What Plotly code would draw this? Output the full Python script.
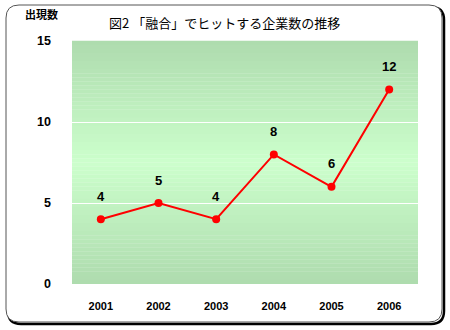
import plotly.graph_objects as go

years = ["2001", "2002", "2003", "2004", "2005", "2006"]
counts = [4, 5, 4, 8, 6, 12]
y_ticks = [0, 5, 10, 15]
title_text = "図2 「融合」でヒットする企業数の推移"
y_unit = "出現数"

W, H = 450, 330
L, R, T, B = 72, 418, 41, 284  # plot area pixels

def px(x):
    return (x - L) / (R - L)

def py(y):
    return (B - y) / (B - T)

def rounded_rect(x0, y0, x1, y1, r):
    return (f"M {px(x0+r)},{py(y0)} L {px(x1-r)},{py(y0)} Q {px(x1)},{py(y0)} {px(x1)},{py(y0+r)} "
            f"L {px(x1)},{py(y1-r)} Q {px(x1)},{py(y1)} {px(x1-r)},{py(y1)} "
            f"L {px(x0+r)},{py(y1)} Q {px(x0)},{py(y1)} {px(x0)},{py(y1-r)} "
            f"L {px(x0)},{py(y0+r)} Q {px(x0)},{py(y0)} {px(x0+r)},{py(y0)} Z")

fig = go.Figure()
fig.add_trace(go.Scatter(
    x=years, y=counts, mode="lines+markers",
    line=dict(color="#ff0000", width=2),
    marker=dict(color="#ff0000", size=8),
    hoverinfo="skip", showlegend=False,
))

shapes = []
# frame shadow and frame
shapes.append(dict(type="path", xref="paper", yref="paper", layer="below",
                   path=rounded_rect(8, 7, 444, 324, 13),
                   line=dict(color="#000000", width=2.5), fillcolor="rgba(0,0,0,0)"))
shapes.append(dict(type="path", xref="paper", yref="paper", layer="below",
                   path=rounded_rect(6, 5, 442, 322, 13),
                   line=dict(color="#555555", width=1), fillcolor="#ffffff"))

# vertical gradient background
top = (174, 219, 174)
mid = (204, 255, 204)
n = 60
for i in range(n):
    f0 = i / n
    f1 = (i + 1) / n
    fc = (f0 + f1) / 2  # fraction from top
    t = 1 - abs(fc - 0.5) / 0.5
    c = tuple(round(top[k] + (mid[k] - top[k]) * t) for k in range(3))
    shapes.append(dict(type="rect", xref="x domain", yref="y domain", layer="below",
                       x0=0, x1=1, y0=1 - f1, y1=1 - f0 + 0.001,
                       line=dict(width=0), fillcolor=f"rgb{c}"))

annotations = [
    dict(x=i, y=v, text=f"<b>{v}</b>", showarrow=False, yshift=23,
         font=dict(family="Liberation Sans, Arial", size=13, color="#000000"))
    for i, v in enumerate(counts)
]
annotations.append(dict(xref="paper", yref="paper", x=px(41), y=py(14), text=f"<b>{y_unit}</b>",
                        showarrow=False, xanchor="center", yanchor="middle",
                        font=dict(family="Noto Sans CJK JP", size=11, color="#000000")))
annotations.append(dict(xref="paper", yref="paper", x=px(224), y=py(22), text=title_text,
                        showarrow=False, xanchor="center", yanchor="middle",
                        font=dict(family="Noto Sans CJK JP", size=13, color="#000000")))

fig.update_layout(
    width=W, height=H,
    margin=dict(l=L, r=W - R, t=T, b=H - B, pad=0),
    paper_bgcolor="#ffffff", plot_bgcolor="rgba(0,0,0,0)",
    shapes=shapes, annotations=annotations,
    xaxis=dict(type="category", range=[-0.5, 5.5], showgrid=False, zeroline=False,
               showline=False, ticks="", ticklabelstandoff=14,
               tickfont=dict(family="Liberation Sans, Arial", size=11, color="#000000", weight="bold")),
    yaxis=dict(range=[0, 15], tickvals=y_ticks, showgrid=True, gridcolor="#ffffff", gridwidth=1,
               zeroline=False, showline=False, ticks="", ticklabelstandoff=20,
               tickfont=dict(family="Liberation Sans, Arial", size=12.5, color="#000000", weight="bold")),
    showlegend=False,
)

fig.write_html("out.html")
